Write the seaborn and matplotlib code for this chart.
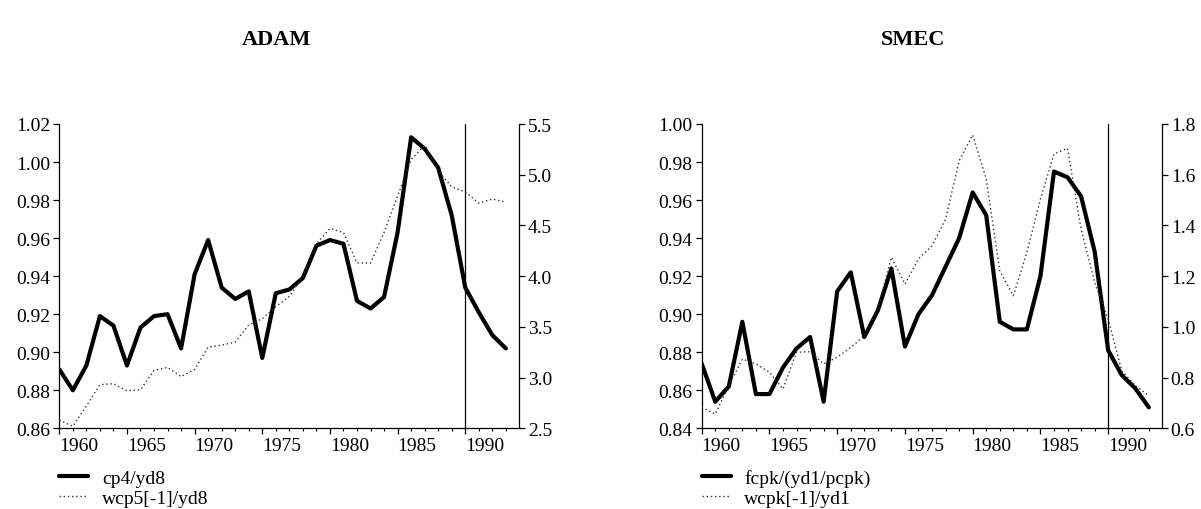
import matplotlib
matplotlib.use("Agg")
import matplotlib.pyplot as plt
import seaborn as sns
import pandas as pd
from matplotlib.ticker import MultipleLocator, FormatStrFormatter

# annual observations, one point per year
years = list(range(1960, 1994))

# ADAM: cp4/yd8 (left axis) and wcp5[-1]/yd8 (right axis)
adam_cp4_yd8 = [0.891, 0.880, 0.893, 0.919, 0.914, 0.893, 0.913, 0.919, 0.920, 0.902,
                0.941, 0.959, 0.934, 0.928, 0.932, 0.897, 0.931, 0.933, 0.939, 0.956,
                0.959, 0.957, 0.927, 0.923, 0.929, 0.963, 1.013, 1.007, 0.997, 0.972,
                0.934, 0.921, 0.909, 0.902]
adam_wcp5_yd8 = [2.58, 2.52, 2.72, 2.93, 2.94, 2.87, 2.88, 3.07, 3.10, 3.01,
                 3.08, 3.30, 3.32, 3.35, 3.52, 3.58, 3.70, 3.80, 4.00, 4.32,
                 4.47, 4.43, 4.13, 4.13, 4.43, 4.79, 5.15, 5.29, 5.04, 4.88,
                 4.83, 4.72, 4.76, 4.73]

# SMEC: fcpk/(yd1/pcpk) (left axis) and wcpk[-1]/yd1 (right axis)
smec_fcpk = [0.874, 0.854, 0.862, 0.896, 0.858, 0.858, 0.872, 0.882, 0.888, 0.854,
             0.912, 0.922, 0.888, 0.902, 0.924, 0.883, 0.900, 0.910, 0.925, 0.940,
             0.964, 0.952, 0.896, 0.892, 0.892, 0.920, 0.975, 0.972, 0.962, 0.933,
             0.881, 0.868, 0.861, 0.851]
smec_wcpk = [0.683, 0.656, 0.768, 0.873, 0.854, 0.821, 0.755, 0.900, 0.902, 0.854,
             0.880, 0.919, 0.965, 1.070, 1.274, 1.169, 1.268, 1.320, 1.425, 1.655,
             1.757, 1.583, 1.221, 1.123, 1.294, 1.504, 1.682, 1.704, 1.386, 1.176,
             1.031, 0.827, 0.768, 0.729]

year_ticks = [1960, 1965, 1970, 1975, 1980, 1985, 1990]

sns.set_theme(style="ticks")
plt.rcParams['font.family'] = ['Liberation Serif', 'DejaVu Serif']
plt.rcParams['axes.edgecolor'] = 'black'
plt.rcParams['axes.linewidth'] = 0.9
plt.rcParams['xtick.color'] = 'black'
plt.rcParams['ytick.color'] = 'black'
plt.rcParams['xtick.labelcolor'] = 'black'
plt.rcParams['ytick.labelcolor'] = 'black'
plt.rcParams['text.color'] = 'black'

fig = plt.figure(figsize=(12.01, 5.10), dpi=100)
W, H = 1201, 510
FS = 14


def draw_panel(x0, x1, title, title_x, left_vals, right_vals, names,
               left_lim, left_step, right_lim, right_step, right_fmt):
    top, bottom = 125, 429.3
    ax = fig.add_axes([x0 / W, 1 - bottom / H, (x1 - x0) / W, (bottom - top) / H])
    ax2 = ax.twinx()
    df = pd.DataFrame({'year': years, 'left': left_vals, 'right': right_vals})

    sns.lineplot(data=df, x='year', y='left', ax=ax, color='black', lw=3,
                 legend=False)
    sns.lineplot(data=df, x='year', y='right', ax=ax2, color='#333333', lw=1,
                 linestyle=(0, (1, 2)), legend=False)
    h1 = ax.lines[0]
    h2 = ax2.lines[0]

    # end of estimation period
    ax.axvline(1990, color='black', lw=0.9)

    ax.set_xlim(1960, 1993.95)
    ax.set_ylim(*left_lim)
    ax2.set_ylim(*right_lim)
    ax.yaxis.set_major_locator(MultipleLocator(left_step))
    ax.yaxis.set_major_formatter(FormatStrFormatter('%.2f'))
    ax2.yaxis.set_major_locator(MultipleLocator(right_step))
    ax2.yaxis.set_major_formatter(FormatStrFormatter(right_fmt))

    ax.set_xticks(year_ticks)
    ax.set_xticklabels([str(y) for y in year_ticks])
    for lab in ax.get_xticklabels():
        lab.set_ha('left')
    ax.xaxis.set_minor_locator(MultipleLocator(1))

    ax.set_xlabel('')
    ax.set_ylabel('')
    ax2.set_xlabel('')
    ax2.set_ylabel('')

    ax.spines['top'].set_visible(False)
    ax.spines['right'].set_visible(False)
    ax2.spines['top'].set_visible(False)
    ax2.spines['left'].set_visible(False)
    ax2.spines['bottom'].set_visible(False)

    ax.tick_params(axis='y', direction='out', length=4.5, width=0.9, labelsize=FS, pad=2)
    ax2.tick_params(axis='y', direction='out', length=4.5, width=0.9, labelsize=FS, pad=2)
    ax.tick_params(axis='x', which='major', direction='out', length=4, width=0.9,
                   labelsize=FS, pad=2)
    ax.tick_params(axis='x', which='minor', direction='out', length=2.5, width=0.8)

    ax.legend([h1, h2], names, loc='upper left', bbox_to_anchor=(0, -0.135),
              frameon=False, fontsize=FS, borderaxespad=0, borderpad=0,
              handlelength=1.5, handletextpad=0.7, labelspacing=0.1)

    fig.text(title_x / W, 1 - 40 / H, title, ha='center', va='center',
             fontsize=16, fontweight='bold')
    return ax, ax2


draw_panel(59.3, 518.7, 'ADAM', 276, adam_cp4_yd8, adam_wcp5_yd8,
           ['cp4/yd8', 'wcp5[-1]/yd8'],
           (0.86, 1.02), 0.02, (2.5, 5.5), 0.5, '%.1f')
draw_panel(701.7, 1161.7, 'SMEC', 913, smec_fcpk, smec_wcpk,
           ['fcpk/(yd1/pcpk)', 'wcpk[-1]/yd1'],
           (0.84, 1.00), 0.02, (0.6, 1.8), 0.2, '%.1f')

fig.savefig('out.png', dpi=100)
